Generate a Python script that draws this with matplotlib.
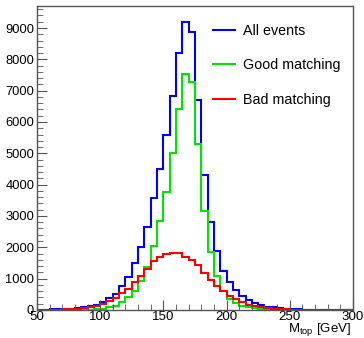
import numpy as np
import matplotlib
matplotlib.use("Agg")
import matplotlib.pyplot as plt
from matplotlib.ticker import MultipleLocator

plt.rcParams['font.family'] = ['Liberation Sans', 'DejaVu Sans']
plt.rcParams['mathtext.fontset'] = 'custom'
plt.rcParams['mathtext.rm'] = 'Liberation Sans'
plt.rcParams['mathtext.it'] = 'Liberation Sans:italic'

# 5 GeV bins from 50 to 300
edges = np.arange(50, 305, 5)

all_events = [0, 0, 40, 20, 30, 40, 60, 80, 130, 170,
              250, 370, 500, 750, 1050, 1500, 2020, 2650, 3580, 4500,
              5600, 6820, 8200, 9200, 8880, 6700, 4300, 2820, 1870, 1250,
              900, 630, 450, 320, 230, 160, 110, 80, 60, 40,
              25, 15, 10, 0, 0, 0, 0, 0, 0, 0]
good_match = [0, 0, 0, 0, 0, 0, 0, 5, 10, 20,
              40, 80, 130, 250, 400, 600, 930, 1360, 2040, 2840,
              3780, 5020, 6400, 7520, 7280, 5310, 3160, 1840, 1080, 600,
              360, 210, 130, 80, 50, 30, 20, 12, 8, 5,
              3, 0, 0, 0, 0, 0, 0, 0, 0, 0]
bad_match = [0, 0, 5, 10, 20, 30, 40, 60, 80, 120,
             180, 270, 380, 530, 680, 900, 1090, 1300, 1560, 1680,
             1780, 1820, 1830, 1700, 1600, 1420, 1170, 960, 770, 590,
             460, 340, 250, 170, 120, 80, 55, 35, 25, 15,
             10, 10, 10, 0, 0, 0, 0, 0, 0, 0]

fig = plt.figure(figsize=(3.64, 3.38), dpi=100)
ax = fig.add_axes([0.1016, 0.083, 0.868, 0.899])

ax.stairs(all_events, edges, color=(0, 0, 1), lw=1.5, label="All events")
ax.stairs(good_match, edges, color=(0, 0.9, 0), lw=1.5, label="Good matching")
ax.stairs(bad_match, edges, color=(1, 0, 0), lw=1.5, label="Bad matching")

ax.set_xlim(50, 300)
ax.set_ylim(0, 9700)
ax.xaxis.set_major_locator(MultipleLocator(50))
ax.xaxis.set_minor_locator(MultipleLocator(10))
ax.yaxis.set_major_locator(MultipleLocator(1000))
ax.yaxis.set_minor_locator(MultipleLocator(200))
ax.tick_params(which='both', direction='in', color='#555555')
ax.tick_params(axis='y', labelsize=9.3, pad=2)
ax.tick_params(axis='x', labelsize=9.6, pad=0.5)
ax.tick_params(which='major', length=7)
ax.tick_params(which='minor', length=4)
for s in ax.spines.values():
    s.set_color('#555555')
    s.set_linewidth(1)

# axis title sits under the tick labels, flush right
fig.text(0.965, 0.0, r"M$_{\mathrm{top}}$ [GeV]",
         ha='right', va='bottom', fontsize=9.5)

ax.legend(loc='upper right', frameon=False, fontsize=10.3, handlelength=1.6,
          labelspacing=1.45, handletextpad=0.5, bbox_to_anchor=(1.0, 0.985))

fig.savefig("out.png", dpi=100)
